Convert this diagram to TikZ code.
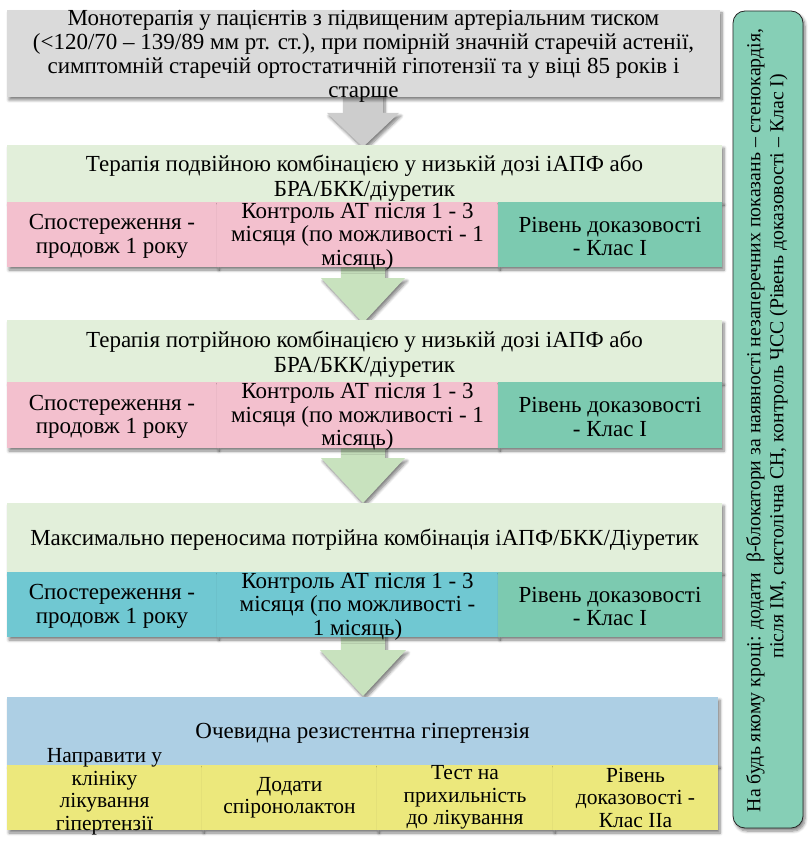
\documentclass[tikz,border=0pt]{standalone}
\usepackage{fontspec}
\setmainfont{Liberation Serif}
\usetikzlibrary{shadows.blur}
\definecolor{cgray}{RGB}{218,218,218}
\definecolor{cgreenhd}{RGB}{226,239,218}
\definecolor{cpink}{RGB}{243,192,206}
\definecolor{cteal}{RGB}{124,202,176}
\definecolor{ccyan}{RGB}{112,200,210}
\definecolor{cblue}{RGB}{173,207,228}
\definecolor{cyellow}{RGB}{236,232,124}
\definecolor{cside}{RGB}{134,207,182}
\definecolor{carrgray}{RGB}{205,205,205}
\definecolor{carrgreen}{RGB}{200,226,190}
\tikzset{
  shd/.style={blur shadow={shadow xshift=2pt, shadow yshift=-3pt, shadow opacity=50, shadow blur steps=6, shadow blur radius=3pt}},
  bgbox/.style={shd, anchor=north west, inner sep=0pt, outer sep=0pt},
  txt/.style={inner sep=0pt, align=center, yshift=-2pt, font=\fontsize{23}{23.5}\selectfont},
  hdtxt/.style={inner sep=0pt, align=center, font=\fontsize{23}{25}\selectfont},
  ytxt/.style={inner sep=0pt, align=center, font=\fontsize{21.5}{22.5}\selectfont},
}
\newcommand\cellbox[5]{%
  \node[bgbox, fill=#2, minimum width=#4, minimum height=#5] (#1) at #3 {};}
\begin{document}
\begin{tikzpicture}[x=1pt,y=-1pt]
\useasboundingbox (0,0) rectangle (807,842);
% arrows (behind boxes)
\fill[carrgray, shd] (343,90) -- (383,90) -- (383,113) -- (399,113) -- (363,147) -- (327,113) -- (343,113) -- cycle;
\fill[carrgreen, shd] (341,262) -- (385,262) -- (385,278) -- (405,278) -- (363,323) -- (321,278) -- (341,278) -- cycle;
\fill[carrgreen, shd] (341,444) -- (385,444) -- (385,458) -- (405,458) -- (363,503) -- (321,458) -- (341,458) -- cycle;
\fill[carrgreen, shd] (341,632) -- (385,632) -- (385,650) -- (406,650) -- (363,696) -- (320,650) -- (341,650) -- cycle;

% top box
\cellbox{mono}{cgray}{(7,10)}{713pt}{87pt}
\node[inner sep=0pt, align=center, font=\fontsize{23}{24}\selectfont] (monot) at ([yshift=-3pt]mono.center)
 {Монотерапія у пацієнтів з підвищеним артеріальним тиском\\
  (<120/70 – 139/89 мм рт. ст.), при помірній значній старечій астенії,\\
  симптомній старечій ортостатичній гіпотензії та у віці 85 років і\\
  старше};

% level 1
\cellbox{h1}{cgreenhd}{(7,145)}{715pt}{57pt}
\node[hdtxt] (h1t) at ([yshift=-5pt]h1.center) {Терапія подвійною комбінацією у низькій дозі іАПФ або\\БРА/БКК/діуретик};
\cellbox{a1}{cpink}{(7,202)}{210pt}{65pt}
\cellbox{b1}{cpink}{(217,202)}{281pt}{65pt}
\cellbox{c1}{cteal}{(498,202)}{224pt}{65pt}
\node[txt] (a1t) at (a1.center) {Спостереження -\\продовж 1 року};
\node[txt] (b1t) at (b1.center) {Контроль АТ після 1 - 3\\місяця (по можливості - 1\\місяць)};
\node[txt] (c1t) at (c1.center) {Рівень доказовості\\- Клас І};

% level 2
\cellbox{h2}{cgreenhd}{(7,320)}{715pt}{62pt}
\node[hdtxt] (h2t) at ([yshift=-3pt]h2.center) {Терапія потрійною комбінацією у низькій дозі іАПФ або\\БРА/БКК/діуретик};
\cellbox{a2}{cpink}{(7,382)}{210pt}{66pt}
\cellbox{b2}{cpink}{(217,382)}{281pt}{66pt}
\cellbox{c2}{cteal}{(498,382)}{224pt}{66pt}
\node[txt] (a2t) at (a2.center) {Спостереження -\\продовж 1 року};
\node[txt] (b2t) at (b2.center) {Контроль АТ після 1 - 3\\місяця (по можливості - 1\\місяць)};
\node[txt] (c2t) at (c2.center) {Рівень доказовості\\- Клас І};

% level 3
\cellbox{h3}{cgreenhd}{(7,503)}{715pt}{69pt}
\node[hdtxt] (h3t) at ([yshift=-2pt]h3.center) {Максимально переносима потрійна комбінація іАПФ/БКК/Діуретик};
\cellbox{a3}{ccyan}{(7,572)}{210pt}{65pt}
\cellbox{b3}{ccyan}{(217,572)}{281pt}{65pt}
\cellbox{c3}{cteal}{(498,572)}{224pt}{65pt}
\node[txt] (a3t) at (a3.center) {Спостереження -\\продовж 1 року};
\node[txt] (b3t) at (b3.center) {Контроль АТ після 1 - 3\\місяця (по можливості -\\1 місяць)};
\node[txt] (c3t) at (c3.center) {Рівень доказовості\\- Клас І};

% level 4
\cellbox{h4}{cblue}{(7,697)}{711pt}{68pt}
\node[hdtxt] (h4t) at ([yshift=-2pt]h4.center) {Очевидна резистентна гіпертензія};
\cellbox{a4}{cyellow}{(7,765)}{195pt}{65pt}
\cellbox{b4}{cyellow}{(202,765)}{175pt}{65pt}
\cellbox{c4}{cyellow}{(377,765)}{176pt}{65pt}
\cellbox{d4}{cyellow}{(553,765)}{165pt}{65pt}
\node[ytxt] (a4t) at ([yshift=6pt]a4.center) {Направити у\\клініку\\лікування\\гіпертензії};
\node[ytxt] (b4t) at (b4.center) {Додати\\спіронолактон};
\node[ytxt] (c4t) at (c4.center) {Тест на\\прихильність\\до лікування};
\node[ytxt] (d4t) at (d4.center) {Рівень\\доказовості -\\Клас ІІа};

% side box
\node[shd, draw=black!85, line width=0.8pt, fill=cside, rounded corners=12pt, anchor=north west,
      minimum width=70pt, minimum height=817pt, inner sep=0pt, outer sep=0pt] (side) at (733,11) {};
\node[rotate=90, align=right, font=\fontsize{19.8}{23}\selectfont, inner sep=0pt] (sidetext) at ([xshift=-1pt,yshift=-1pt]side.center)
 {На будь якому кроці: додати\ \ β-блокатори за наявності незаперечних показань – стенокардія,\\
  після ІМ, систолічна СН, контроль ЧСС (Рівень доказовості – Клас І)\hspace*{45pt}};
\end{tikzpicture}
\end{document}
